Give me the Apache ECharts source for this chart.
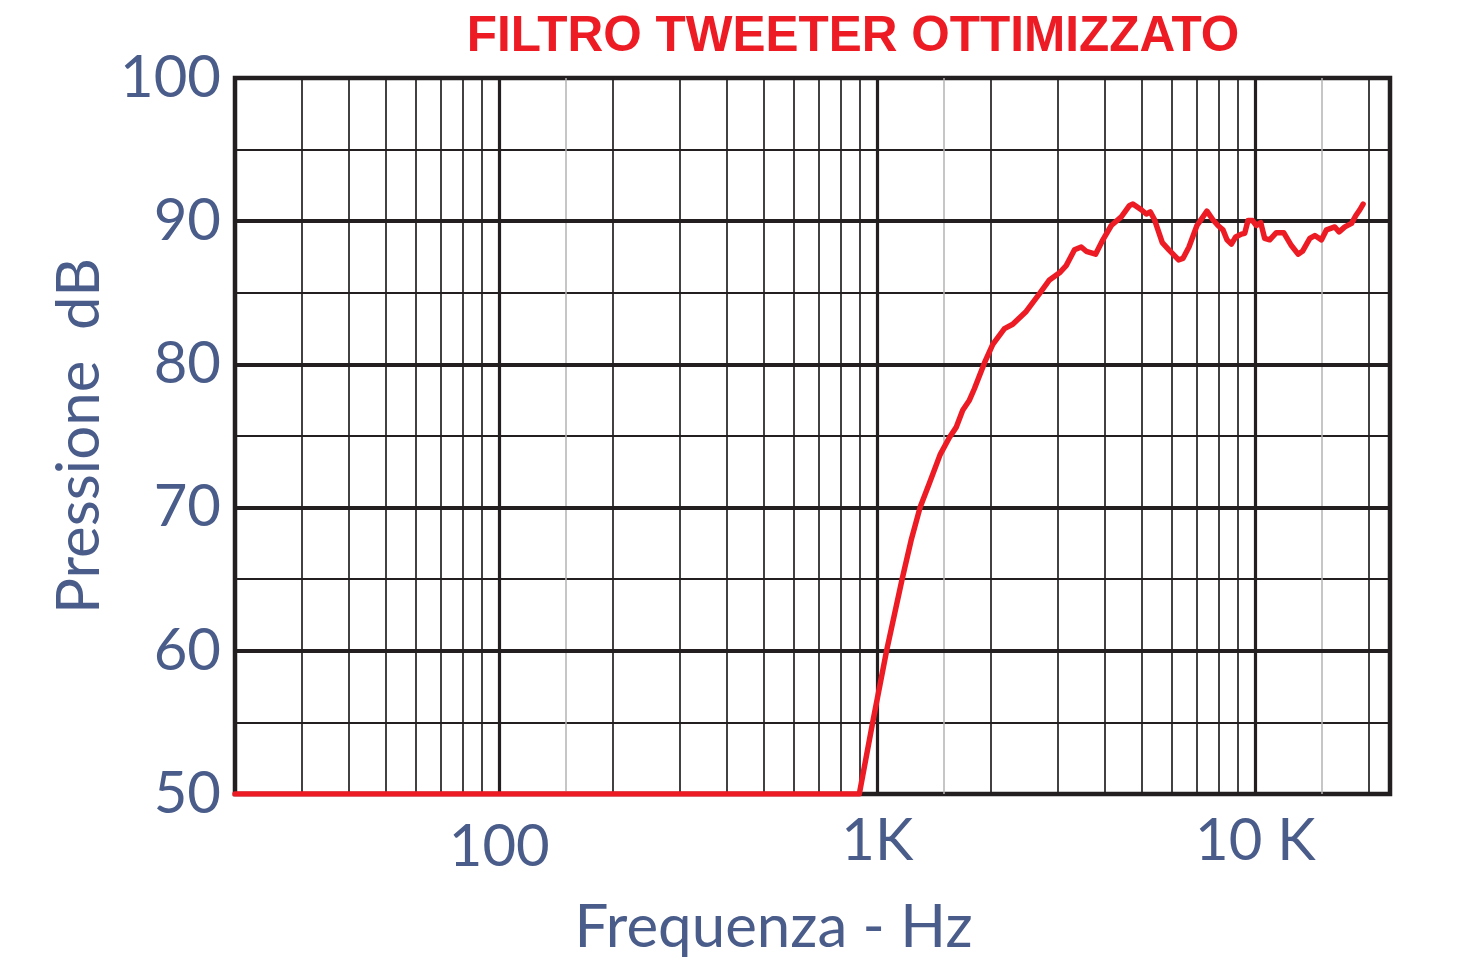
<!DOCTYPE html>
<html>
<head>
<meta charset="utf-8">
<script src="https://cdn.jsdelivr.net/npm/echarts@6/dist/echarts.min.js"></script>
<style>
html,body{margin:0;padding:0;background:#fff;}
#chart{width:1460px;height:973px;}
</style>
</head>
<body>
<div id="chart"></div>
<script>
// ---- data ----
const titleText = 'FILTRO TWEETER OTTIMIZZATO';
const xAxisTitle = 'Frequenza - Hz';
const yAxisTitle = 'Pressione  dB';
const freqHz = [20, 896, 972, 1058, 1163, 1228, 1297, 1373, 1466, 1551, 1616, 1682, 1752, 1806, 1920, 2020, 2169, 2281, 2476, 2685, 2853, 3033, 3159, 3323, 3462, 3569, 3778, 3950, 4157, 4418, 4647, 4742, 4991, 5145, 5272, 5412, 5672, 5905, 6265, 6432, 6672, 7005, 7444, 7720, 7961, 8207, 8410, 8640, 8868, 9182, 9369, 9559, 9820, 10060, 10330, 10580, 10910, 11360, 11880, 12450, 12970, 13320, 13930, 14360, 14960, 15420, 16220, 16650, 17240, 17960, 18440, 18890, 19270];
const splDb = [50, 50, 55, 60, 65, 67.7, 70, 71.7, 73.7, 74.9, 75.6, 76.8, 77.5, 78.3, 80.1, 81.4, 82.5, 82.8, 83.7, 84.95, 85.9, 86.4, 86.9, 88.0, 88.2, 87.9, 87.7, 88.7, 89.7, 90.3, 91.1, 91.2, 90.8, 90.5, 90.65, 90.1, 88.5, 88.0, 87.3, 87.4, 88.2, 89.7, 90.7, 90.1, 89.7, 89.4, 88.7, 88.4, 88.9, 89.1, 89.15, 90.05, 90.05, 89.7, 89.9, 88.8, 88.7, 89.2, 89.2, 88.3, 87.7, 87.9, 88.8, 89.0, 88.7, 89.4, 89.6, 89.25, 89.6, 89.85, 90.4, 90.8, 91.2];
const xMin = 20, xMax = 22700;
const yMin = 50, yMax = 100, yStep = 10;
const xTickLabels = {100: '{lo|100}', 1000: '1K', 10000: '10 K'};
const xMajorGrid = [100, 1000, 10000];
const xMinorGrid = [30, 40, 50, 60, 70, 80, 90, 200, 300, 400, 500, 600, 700, 800, 900, 2000, 3000, 4000, 5000, 6000, 7000, 8000, 9000, 20000];
const xGrayGrid = [150, 1500, 15000];
const yMajorGrid = [60, 70, 80, 90];
const yMinorGrid = [55, 65, 75, 85, 95];

const TXT = '#4a5d8a';
const INK = '#231f20';
const FONT = 'Lato, "Open Sans", sans-serif';

const lineData = freqHz.map((f, i) => [f, splDb[i]]);

const gridLines = [];
const solid = (color, width) => ({color: color, width: width, type: 'solid'});
yMinorGrid.forEach(v => gridLines.push({yAxis: v, lineStyle: solid(INK, 2)}));
xMinorGrid.forEach(v => gridLines.push({xAxis: v, lineStyle: solid(INK, 1.7)}));
xGrayGrid.forEach(v => gridLines.push({xAxis: v, lineStyle: solid('#b3b3b3', 1.5)}));
xMajorGrid.forEach(v => gridLines.push({xAxis: v, lineStyle: solid(INK, 3.2)}));
yMajorGrid.forEach(v => gridLines.push({yAxis: v, lineStyle: solid(INK, 4.2)}));

const chart = echarts.init(document.getElementById('chart'), null, {renderer: 'canvas'});
chart.setOption({
  animation: false,
  backgroundColor: '#fff',
  title: {
    text: titleText,
    left: 848, top: 7, textAlign: 'center',
    textStyle: {color: '#ed1c24', fontSize: 49.5, fontWeight: 'bold', fontFamily: '"Liberation Sans", Arial, sans-serif'}
  },
  grid: {left: 235, right: 70, top: 78, bottom: 179, show: true, borderColor: INK, borderWidth: 4.5, containLabel: false},
  xAxis: {
    type: 'log', logBase: 10, min: xMin, max: xMax,
    name: xAxisTitle, nameLocation: 'middle', nameGap: 104,
    nameTextStyle: {color: TXT, fontSize: 60, fontFamily: FONT, padding: [0, 78, 0, 0]},
    axisLine: {show: false}, axisTick: {show: false}, splitLine: {show: false}, minorTick: {show: false},
    axisLabel: {
      show: true, margin: 18, color: TXT, fontSize: 58, fontFamily: FONT, hideOverlap: false,
      formatter: function (v) { const r = Math.round(v); return xTickLabels[r] || ''; },
      rich: {lo: {color: TXT, fontSize: 58, fontFamily: FONT, padding: [6, 0, 0, 0]}}
    }
  },
  yAxis: {
    type: 'value', min: yMin, max: yMax, interval: yStep,
    name: yAxisTitle, nameLocation: 'middle', nameGap: 106, nameRotate: 90,
    nameTextStyle: {color: TXT, fontSize: 60, fontFamily: FONT},
    axisLine: {show: false}, axisTick: {show: false}, splitLine: {show: false},
    axisLabel: {margin: 14, color: TXT, fontSize: 58, fontFamily: FONT}
  },
  series: [
    {
      type: 'line', z: 1, silent: true, data: [[xMin, yMin]], symbol: 'none',
      lineStyle: {opacity: 0},
      markLine: {silent: true, symbol: ['none', 'none'], label: {show: false}, animation: false, data: gridLines}
    },
    {
      type: 'line', z: 5, data: lineData, symbol: 'none', smooth: false,
      lineStyle: {color: '#ed1c24', width: 5.5, cap: 'round', join: 'round'}
    }
  ]
});
</script>
</body>
</html>
